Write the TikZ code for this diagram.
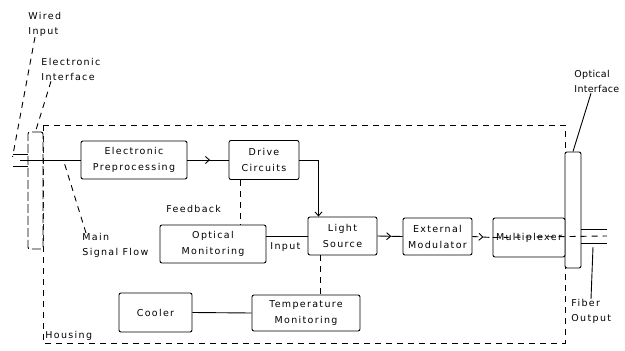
\documentclass[tikz,border=0pt]{standalone}
\usepackage{fontspec}
\setmainfont{DejaVu Sans}[LetterSpace=14]
\usetikzlibrary{arrows.meta,decorations.markings}

\tikzset{
  block/.style={draw, rounded corners=2pt, fill=white, align=center, inner sep=0pt,
    font=\fontsize{9.5}{16}\selectfont},
  tag/.style={align=left, inner sep=0pt, font=\fontsize{9.5}{15}\selectfont},
  housing/.style={dash pattern=on 6pt off 5pt},
  midarrow/.style={postaction={decorate},
    decoration={markings, mark=at position 0.55 with {\arrow{Straight Barb[length=4pt,width=7pt]}}}}
}

\begin{document}
\begin{tikzpicture}[x=1pt, y=-1pt, line width=0.9pt]
  \useasboundingbox (0,0) rectangle (625,351);

  \draw[housing] (43,125) rectangle (565,343);

  \node[block, dash pattern=on 9pt off 3pt, minimum width=15pt, minimum height=117pt] (eif) at (35.5,190.5) {};
  \node[block, minimum width=16pt, minimum height=116pt] (oif) at (573,210) {};

  \node[block, minimum width=106pt, minimum height=38pt] (prep) at (134,160) {Electronic\\Preprocessing};
  \node[block, minimum width=70pt, minimum height=39pt] (drive) at (264,160) {Drive\\Circuits};
  \node[block, minimum width=106pt, minimum height=38pt] (optmon) at (213,244) {Optical\\Monitoring};
  \node[block, minimum width=69pt, minimum height=38pt] (light) at (342.5,236) {Light\\Source};
  \node[block, minimum width=69pt, minimum height=37pt] (extmod) at (437.5,236.5) {External\\Modulator};
  \node[block, minimum width=72pt, minimum height=39pt] (mux) at (529,237.5) {Multiplexer};
  \node[block, minimum width=73pt, minimum height=39pt] (cooler) at (155.5,312.5) {Cooler};
  \node[block, minimum width=108pt, minimum height=36pt] (tempmon) at (306,313) {Temperature\\Monitoring};

  \node[tag, anchor=north west] (wirelab) at (28,12) {Wired\\Input};
  \node[tag, anchor=north west] (eiflab) at (41,58) {Electronic\\Interface};
  \node[tag, anchor=north west] (fblab) at (166,205) {Feedback};
  \node[tag, anchor=north west] (mainlab) at (82,233) {Main\\Signal Flow};
  \node[tag, anchor=north west] (inlab) at (270,242) {Input};
  \node[tag, anchor=north west, font=\fontsize{9.5}{15}\selectfont\addfontfeature{LetterSpace=3}] (oiflab) at (574,70) {Optical\\Interface};
  \node[tag, anchor=north west] (fiblab) at (571,299) {Fiber\\Output};
  \node[tag, anchor=south west] (houselab) at (45,341) {Housing};

  \coordinate (wirein) at (20,160);
  \coordinate (sigtap) at (64,162);
  \coordinate (fibout) at (607,236);
  \coordinate (fibtap) at (593,247);
  \path ([yshift=6pt]eif.west |- wirein) ++(-15,0) coordinate (plugtop);
  \path ([yshift=-6pt]eif.west |- wirein) ++(-15,0) coordinate (plugbot);

  \draw (wirein) -- (prep.west);
  \draw (plugtop) -- (plugtop -| eif.west);
  \draw (plugbot) -- (plugbot -| eif.west);
  \draw[midarrow] (prep.east) -- (drive.west);
  \draw[-{Straight Barb[length=4pt,width=7pt]}] (drive.east) -| ([xshift=-24pt]light.north);
  \draw[housing] ([xshift=-24pt]drive.south) -- ([xshift=-24pt]drive.south |- optmon.north);
  \draw (optmon.east |- light.west) -- (light.west);
  \draw[midarrow] (light.east) -- (extmod.west);
  \draw[housing, midarrow] (extmod.east) -- (mux.west);
  \draw[housing] (mux.west) -- (fibout);
  \draw ([yshift=7pt]oif.east |- fibout) -- ([yshift=7pt]fibout);
  \draw ([yshift=-7pt]oif.east |- fibout) -- ([yshift=-7pt]fibout);
  \draw[housing] ([xshift=-22pt]light.south) -- ([xshift=-22pt]light.south |- tempmon.north);
  \draw (cooler.east) -- (tempmon.west);

  \draw[housing] ([xshift=7pt]wirelab.south west) -- ([yshift=-3pt]plugtop);
  \draw[housing] ([xshift=10pt]eiflab.south west) -- (eif.north);
  \draw[housing] ([xshift=4pt]mainlab.north west) -- (sigtap);
  \draw ([xshift=17pt]oiflab.south west) -- (oif.north);
  \draw ([xshift=20pt]fiblab.north west) -- (fibtap);
\end{tikzpicture}
\end{document}
